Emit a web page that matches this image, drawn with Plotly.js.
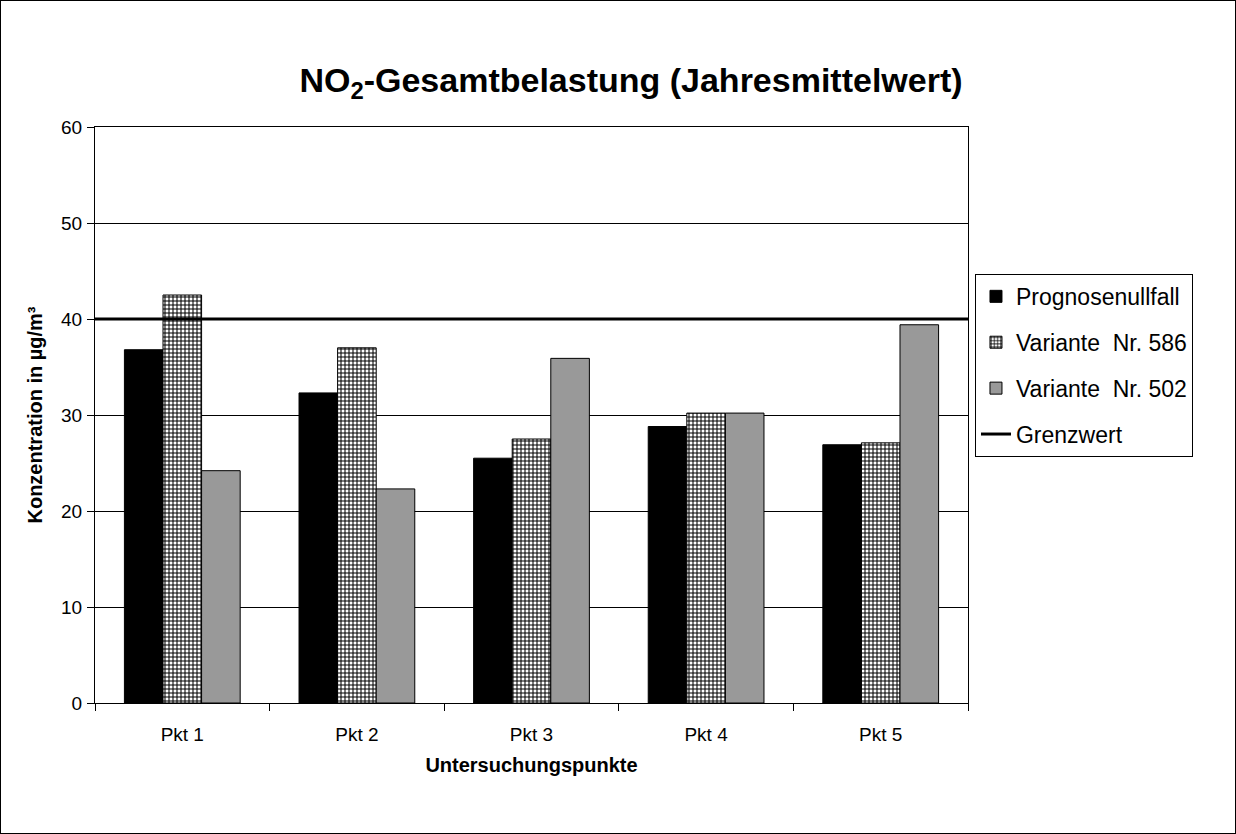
<!DOCTYPE html>
<html>
<head>
<meta charset="utf-8">
<script src="https://cdn.plot.ly/plotly-3.0.1.min.js"></script>
<style>
  html, body { margin: 0; padding: 0; background: #fff; }
  #wrap { position: relative; width: 1236px; height: 834px; }
  #chart { width: 1236px; height: 834px; }
  #frame { position: absolute; left: 0; top: 0; width: 1236px; height: 834px;
           box-sizing: border-box; border: 1px solid #000; pointer-events: none; }
</style>
</head>
<body>
<div id="wrap">
  <div id="chart"></div>
  <div id="frame"></div>
</div>
<script>
// Untersuchungspunkte und NO2-Jahresmittelwerte in µg/m³
const punkte = ['Pkt 1', 'Pkt 2', 'Pkt 3', 'Pkt 4', 'Pkt 5'];
const prognosenullfall = [36.8, 32.3, 25.5, 28.8, 26.9];
const variante586 = [42.5, 37.0, 27.5, 30.2, 27.1];
const variante502 = [24.2, 22.3, 35.9, 30.2, 39.4];
const grenzwert = 40;
const yTicks = [0, 10, 20, 30, 40, 50, 60];

const FONT = 'Liberation Sans, Arial, Helvetica, sans-serif';

const traces = [
  {
    type: 'bar', name: 'Prognosenullfall', x: punkte, y: prognosenullfall,
    legendgroup: 'a',
    marker: { color: '#000000', line: { color: '#000000', width: 1 } },
    hoverinfo: 'x+y+name'
  },
  {
    type: 'bar', name: 'Variante\u00a0\u00a0Nr. 586', x: punkte, y: variante586,
    legendgroup: 'b',
    marker: {
      color: '#ffffff',
      line: { color: '#000000', width: 1 },
      pattern: { shape: '+', fgcolor: '#000000', bgcolor: '#ffffff', size: 4, solidity: 0.45 }
    },
    hoverinfo: 'x+y+name'
  },
  {
    type: 'bar', name: 'Variante\u00a0\u00a0Nr. 502', x: punkte, y: variante502,
    legendgroup: 'c',
    marker: { color: '#999999', line: { color: '#000000', width: 1 } },
    hoverinfo: 'x+y+name'
  },
  {
    // Grenzwert über die gesamte Breite des Diagramms
    type: 'scatter', mode: 'lines', name: 'Grenzwert',
    x: [0, 1], y: [grenzwert, grenzwert], xaxis: 'x2', yaxis: 'y',
    legendgroup: 'd',
    line: { color: '#000000', width: 3 },
    hoverinfo: 'y+name'
  }
];

const layout = {
  width: 1236, height: 834,
  paper_bgcolor: '#ffffff', plot_bgcolor: '#ffffff',
  margin: { l: 95, r: 268, t: 127, b: 131, pad: 0 },
  font: { family: FONT, size: 19, color: '#000000' },
  title: {
    text: 'NO<sub>2</sub>-Gesamtbelastung (Jahresmittelwert)',
    font: { family: FONT, size: 34, color: '#000000', weight: 700 },
    xref: 'container', yref: 'container',
    x: 631 / 1236, xanchor: 'center', y: 1 - 80 / 834, yanchor: 'middle'
  },
  barmode: 'group', bargap: 0.337, bargroupgap: 0,
  showlegend: true,
  legend: {
    x: 1.008, xanchor: 'left', y: 0.745, yanchor: 'top',
    bgcolor: '#ffffff', bordercolor: '#000000', borderwidth: 1,
    font: { family: FONT, size: 23, color: '#000000' },
    traceorder: 'grouped', tracegroupgap: 13
  },
  xaxis: {
    type: 'category', categoryorder: 'array', categoryarray: punkte,
    showline: true, mirror: true, linecolor: '#000000', linewidth: 1,
    ticks: 'outside', tickson: 'boundaries', ticklen: 7, tickcolor: '#000000',
    ticklabelstandoff: 14,
    tickfont: { family: FONT, size: 19, color: '#000000' },
    showgrid: false, zeroline: false,
    title: { text: 'Untersuchungspunkte', standoff: 14,
             font: { family: FONT, size: 20, color: '#000000', weight: 700 } }
  },
  xaxis2: { overlaying: 'x', range: [0, 1], visible: false, fixedrange: true },
  yaxis: {
    range: [0, 60], tickvals: yTicks, ticktext: yTicks.map(String),
    showline: true, mirror: true, linecolor: '#000000', linewidth: 1,
    ticks: 'outside', ticklen: 7, tickcolor: '#000000',
    ticklabelstandoff: 1,
    tickfont: { family: FONT, size: 19, color: '#000000' },
    showgrid: true, gridcolor: '#000000', gridwidth: 1, zeroline: false,
    title: { text: 'Konzentration in µg/m³', standoff: 13,
             font: { family: FONT, size: 20, color: '#000000', weight: 700 } }
  }
};

Plotly.newPlot('chart', traces, layout, { displayModeBar: false });
</script>
</body>
</html>
